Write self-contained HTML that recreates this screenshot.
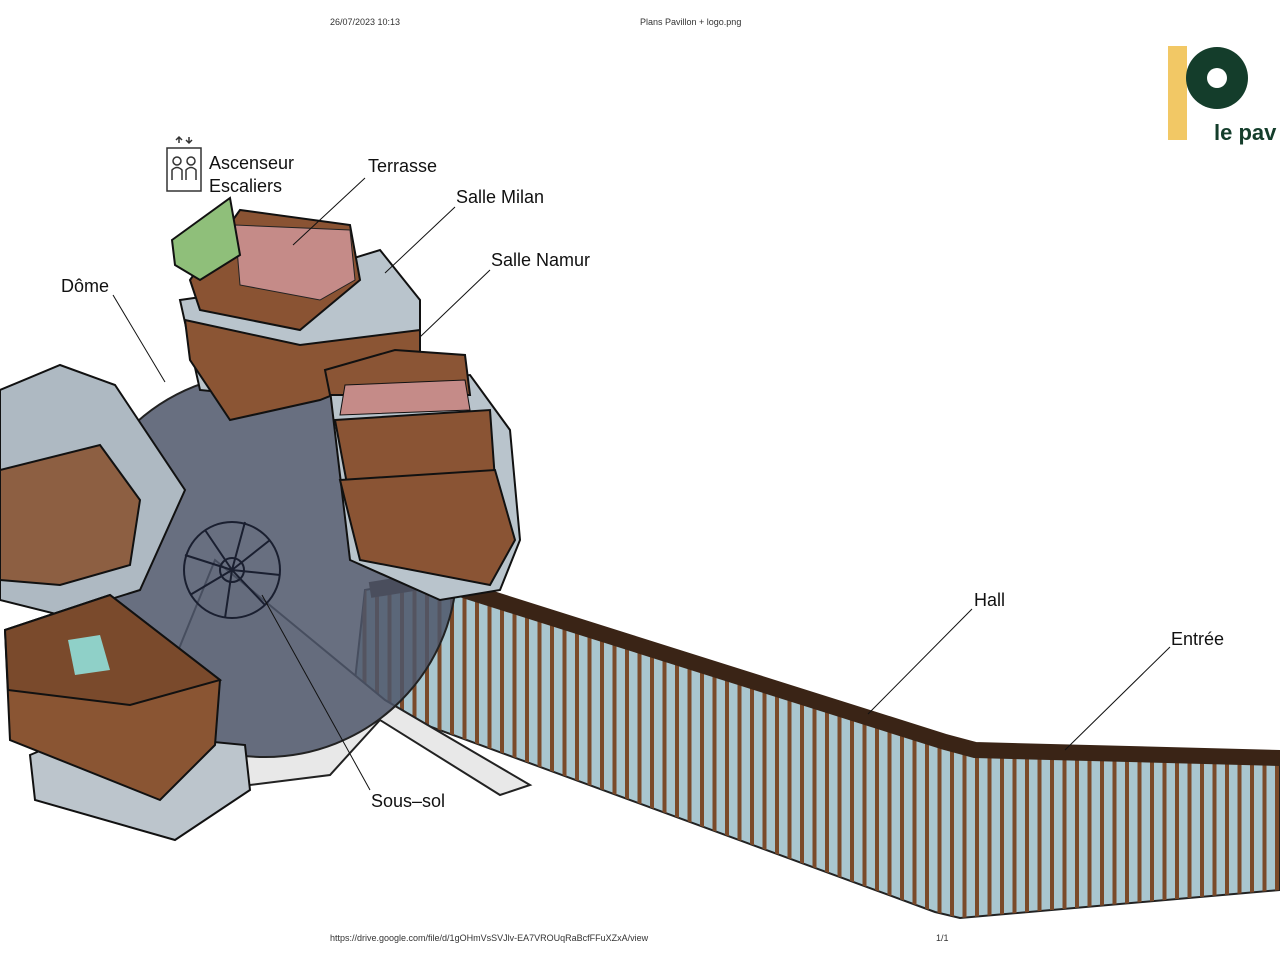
<!DOCTYPE html>
<html><head><meta charset="utf-8"><style>
html,body{margin:0;padding:0;background:#fff;}
svg{display:block;}
text{font-family:"Liberation Sans",sans-serif;}
</style></head><body>
<svg width="1280" height="960" viewBox="0 0 1280 960" xmlns="http://www.w3.org/2000/svg">
<defs>
<pattern id="ribs" x="0" y="0" width="12.5" height="40" patternUnits="userSpaceOnUse">
<rect x="0" y="0" width="4" height="40" fill="#7a4a2a"/>
</pattern>
</defs>
<rect width="1280" height="960" fill="#fff"/>
<text x="330" y="25" font-size="9" fill="#333">26/07/2023 10:13</text>
<text x="640" y="25" font-size="9" fill="#333">Plans Pavillon + logo.png</text>
<text x="330" y="941" font-size="9" fill="#333">https://drive.google.com/file/d/1gOHmVsSVJlv-EA7VROUqRaBcfFFuXZxA/view</text>
<text x="936" y="941" font-size="9" fill="#333">1/1</text>
<!-- logo -->
<rect x="1168" y="46" width="19" height="94" fill="#f2c865"/>
<circle cx="1217" cy="78" r="31" fill="#143d2b"/>
<circle cx="1217" cy="78" r="10" fill="#fff"/>
<text x="1214" y="140" font-size="22" font-weight="bold" fill="#143d2b">le pav</text>

<!-- hall corridor -->
<polygon points="365,590 430,578 945,738 975,745 1280,752 1280,890 960,918 935,912 385,710 355,680" fill="#a9c6cf" stroke="#222" stroke-width="2"/>
<polygon points="365,590 430,578 945,738 975,745 1280,752 1280,890 960,918 935,912 385,710 355,680" fill="url(#ribs)"/>
<polyline points="370,590 432,580 945,742 975,750 1280,758" fill="none" stroke="#3a2416" stroke-width="16"/>
<!-- white base under dome -->
<polygon points="215,560 385,700 530,785 500,795 380,720 330,775 250,785 150,720" fill="#e8e8e8" stroke="#222" stroke-width="2"/>
<!-- dome -->
<circle cx="265" cy="565" r="192" fill="#4e566a" fill-opacity="0.85" stroke="#222" stroke-width="2"/>
<!-- spiral stair -->
<g fill="none" stroke="#1a1f30" stroke-width="2">
<circle cx="232" cy="570" r="48"/><circle cx="232" cy="570" r="12"/>
<path d="M232,570 L270,540 M232,570 L280,575 M232,570 L265,605 M232,570 L225,618 M232,570 L190,595 M232,570 L185,555 M232,570 L205,530 M232,570 L245,522"/>
</g>
<!-- left octagon building -->
<polygon points="0,390 60,365 115,385 185,490 140,590 60,615 0,600" fill="#aeb9c2" stroke="#111" stroke-width="2"/>
<polygon points="0,470 100,445 140,500 130,565 60,585 0,580" fill="#8a5534" stroke="#111" stroke-width="2" fill-opacity="0.9"/>
<!-- bottom left brown box -->
<polygon points="30,755 90,730 245,745 250,790 175,840 35,800" fill="#bcc5cc" stroke="#111" stroke-width="2"/>
<polygon points="5,630 110,595 220,680 215,745 160,800 10,740" fill="#8a5533" stroke="#111" stroke-width="2"/>
<polygon points="5,630 110,595 220,680 130,705 8,690" fill="#7a4a2c" stroke="#111" stroke-width="2"/>
<polygon points="68,640 100,635 110,670 75,675" fill="#8fd0c8"/>
<!-- towers -->
<polygon points="180,300 250,290 380,250 420,300 420,340 300,400 200,390" fill="#b9c4cc" stroke="#111" stroke-width="2"/>
<polygon points="185,320 300,345 420,330 420,360 320,400 230,420 190,360" fill="#8b5534" stroke="#111" stroke-width="2"/>
<polygon points="190,280 240,210 350,225 360,280 300,330 200,310" fill="#8a5333" stroke="#111" stroke-width="2"/>
<polygon points="235,225 350,230 355,280 320,300 240,285" fill="#c58b88" stroke="#222" stroke-width="1"/>
<polygon points="172,240 230,198 240,255 200,280 175,265" fill="#8fbf7a" stroke="#111" stroke-width="2"/>
<polygon points="330,390 470,375 510,430 520,540 500,590 440,600 350,560" fill="#b9c4cc" stroke="#111" stroke-width="2"/>
<polygon points="335,420 490,410 495,480 470,510 350,500" fill="#8a5434" stroke="#111" stroke-width="2"/>
<polygon points="340,480 495,470 515,540 490,585 360,560" fill="#8a5434" stroke="#111" stroke-width="2"/>
<polygon points="325,370 395,350 465,355 470,395 330,395" fill="#8b5535" stroke="#111" stroke-width="2"/>
<polygon points="345,385 465,380 470,410 340,415" fill="#c58b88" stroke="#111" stroke-width="1"/>

<!-- labels -->
<g font-size="18" fill="#111">
<text x="209" y="169">Ascenseur</text>
<text x="209" y="192">Escaliers</text>
<text x="368" y="172">Terrasse</text>
<text x="456" y="203">Salle Milan</text>
<text x="491" y="266">Salle Namur</text>
<text x="61" y="292">Dôme</text>
<text x="974" y="606">Hall</text>
<text x="1171" y="645">Entrée</text>
<text x="371" y="807">Sous–sol</text>
</g>
<g stroke="#111" stroke-width="1" fill="none">
<line x1="365" y1="178" x2="293" y2="245"/>
<line x1="455" y1="207" x2="385" y2="273"/>
<line x1="490" y1="270" x2="420" y2="337"/>
<line x1="113" y1="295" x2="165" y2="382"/>
<line x1="972" y1="609" x2="868" y2="714"/>
<line x1="1170" y1="647" x2="1065" y2="750"/>
<line x1="370" y1="790" x2="262" y2="595"/>
</g>
<!-- elevator icon -->
<g fill="none" stroke="#333" stroke-width="1.5">
<rect x="167" y="148" width="34" height="43"/>
<circle cx="177" cy="161" r="4"/><circle cx="191" cy="161" r="4"/>
<path d="M172,180 L172,170 Q177,165 182,170 L182,180 M186,180 L186,170 Q191,165 196,170 L196,180"/>
<path d="M179,143 L179,137 M176,140 L179,137 L182,140 M189,137 L189,143 M186,140 L189,143 L192,140"/>
</g>
</svg>
</body></html>
